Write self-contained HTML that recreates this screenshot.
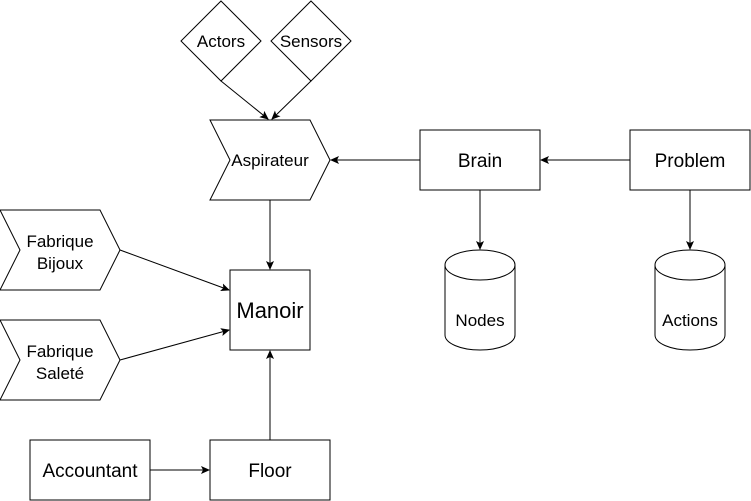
<html><body style="margin:0;background:#fff">
<svg width="751" height="501" xmlns="http://www.w3.org/2000/svg" font-family="Liberation Sans, Arial, sans-serif" font-size="16">
<defs><marker id="a" markerWidth="10" markerHeight="10" refX="8" refY="4" orient="auto" markerUnits="userSpaceOnUse"><path d="M0,0 L9,4 L0,8 L2,4 z" fill="#000"/></marker></defs>
<g fill="#fff" stroke="#000" stroke-width="1">
<polygon points="221,1 261,41 221,81 181,41"/>
<polygon points="311,1 351,41 311,81 271,41"/>
<polygon points="210,120 310,120 330,160 310,200 210,200 230,160"/>
<rect x="420" y="130" width="120" height="60"/>
<rect x="630" y="130" width="120" height="60"/>
<polygon points="0,210 100,210 120,250 100,290 0,290 20,250"/>
<polygon points="0,320 100,320 120,360 100,400 0,400 20,360"/>
<rect x="230" y="270" width="80" height="80"/>
<path d="M445,265 A35,15 0 0 1 515,265 L515,335 A35,15 0 0 1 445,335 Z"/>
<path d="M445,265 A35,15 0 0 0 515,265"/>
<path d="M655,265 A35,15 0 0 1 725,265 L725,335 A35,15 0 0 1 655,335 Z"/>
<path d="M655,265 A35,15 0 0 0 725,265"/>
<rect x="30" y="440" width="120" height="60"/>
<rect x="210" y="440" width="120" height="60"/>
</g>
<g stroke="#000" stroke-width="1" fill="none" marker-end="url(#a)">
<line x1="221" y1="81" x2="268" y2="119"/>
<line x1="311" y1="81" x2="272" y2="119"/>
<line x1="270" y1="200" x2="270" y2="269"/>
<line x1="420" y1="160" x2="331" y2="160"/>
<line x1="630" y1="160" x2="541" y2="160"/>
<line x1="480" y1="190" x2="480" y2="249"/>
<line x1="690" y1="190" x2="690" y2="249"/>
<line x1="120" y1="250" x2="229" y2="290"/>
<line x1="120" y1="360" x2="229" y2="330"/>
<line x1="270" y1="440" x2="270" y2="351"/>
<line x1="150" y1="470" x2="209" y2="470"/>
</g>
<g text-anchor="middle" fill="#000">
<text x="221" y="47" font-size="17">Actors</text>
<text x="311" y="47" font-size="17">Sensors</text>
<text x="270" y="166" font-size="17">Aspirateur</text>
<text x="480" y="167" font-size="19">Brain</text>
<text x="690" y="167" font-size="19">Problem</text>
<text x="60" y="247" font-size="17">Fabrique</text>
<text x="60" y="269" font-size="17">Bijoux</text>
<text x="60" y="357" font-size="17">Fabrique</text>
<text x="60" y="379" font-size="17">Saleté</text>
<text x="270" y="318" font-size="22">Manoir</text>
<text x="480" y="326" font-size="17">Nodes</text>
<text x="690" y="326" font-size="17">Actions</text>
<text x="90" y="477" font-size="19">Accountant</text>
<text x="270" y="477" font-size="19">Floor</text>
</g>
</svg>
</body></html>
